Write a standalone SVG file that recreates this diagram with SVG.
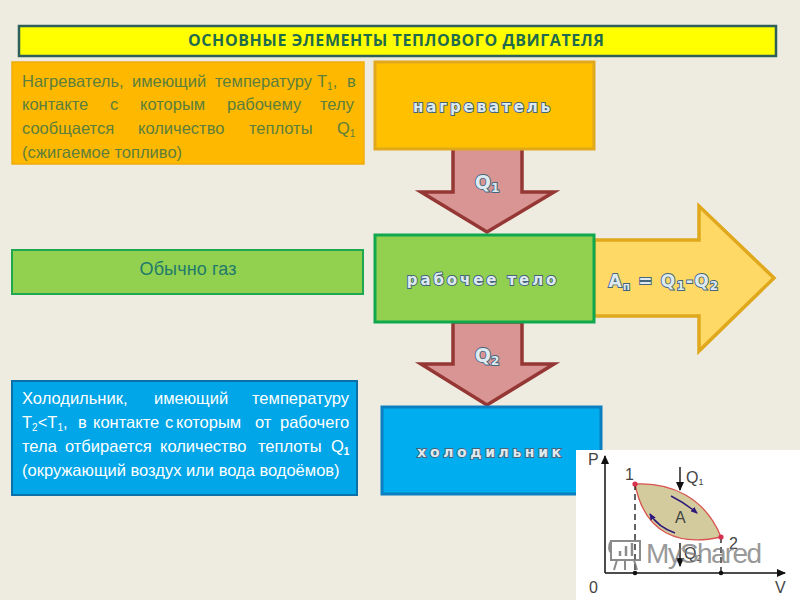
<svg xmlns="http://www.w3.org/2000/svg" width="800" height="600" viewBox="0 0 800 600">
<style>
text{font-family:"Liberation Sans",Arial,sans-serif}
.b{font-size:16.5px}
.o{fill:#5b7f3c}
.w{fill:#fff}
.s{font-size:10px}
.fx{font-family:"DejaVu Sans",sans-serif;font-weight:bold;fill:#dfeaf0;stroke:#44657c;stroke-width:1.8px;paint-order:stroke;text-anchor:middle}
.ar{fill:#d99594;stroke:#953735;stroke-width:3.5}
.g{font-size:16px;fill:#444}
</style>
<defs>
<marker id="ah" markerUnits="userSpaceOnUse" markerWidth="9" markerHeight="8" refX="8" refY="4" orient="auto"><path d="M0 0L9 4L0 8z" fill="#111"/></marker>
<marker id="ab" markerUnits="userSpaceOnUse" markerWidth="7" markerHeight="6" refX="6" refY="3" orient="auto"><path d="M0 0L7 3L0 6z" fill="#2e1a7a"/></marker>
</defs>
<rect width="800" height="600" fill="#eeece1"/>
<g id="title"><rect x="19" y="26" width="757" height="30" fill="#ffff00" stroke="#2f5f5a" stroke-width="2.5"/>
<text x="396" y="46" font-size="16" font-weight="bold" fill="#1f6b4e" text-anchor="middle" style="font-family:'Open Sans',sans-serif" textLength="416">ОСНОВНЫЕ ЭЛЕМЕНТЫ ТЕПЛОВОГО ДВИГАТЕЛЯ</text></g>

<g id="connectors">
<path class="ar" d="M453 148V192H421L487 232L554 192H522V148z"/>
<path class="ar" d="M453 322V364H421L487 405L554 364H522V322z"/>
<path d="M594 240H699V206L774 278L699 351V316H594z" fill="#ffd966" stroke="#e0a81c" stroke-width="3.5"/>
</g>

<g id="heater-note"><rect x="12" y="62" width="352" height="102" fill="#ffb800" stroke="#f0ac0c" stroke-width="1.5"/>
<g class="b o">
<text x="22" y="87">Нагреватель,</text><text x="132" y="87">имеющий</text><text x="215" y="87">температуру</text><text x="317" y="87">Т<tspan class="s" dy="3">1</tspan><tspan dy="-3">,</tspan></text><text x="347" y="87">в</text>
<text x="22" y="110">контакте</text><text x="110" y="110">с</text><text x="140" y="110">которым</text><text x="227" y="110">рабочему</text><text x="320" y="110">телу</text>
<text x="22" y="134">сообщается</text><text x="138" y="134">количество</text><text x="249" y="134">теплоты</text><text x="337" y="134">Q<tspan class="s" dy="3">1</tspan></text>
<text x="22" y="158">(сжигаемое топливо)</text>
</g></g>

<g id="heater"><rect x="375" y="62" width="219" height="87" fill="#ffc000" stroke="#e0a81c" stroke-width="3"/>
<text class="fx" x="483" y="112" font-size="15" letter-spacing="2.9">нагреватель</text></g>

<g id="gas-note"><rect x="12" y="250" width="351" height="44" fill="#92d050" stroke="#1fa84f" stroke-width="2"/>
<text x="188" y="275" font-size="18" fill="#1f7a6a" text-anchor="middle" textLength="97">Обычно газ</text></g>

<g id="working-body"><rect x="375" y="235" width="219" height="87" fill="#92d050" stroke="#0fa84f" stroke-width="3"/>
<text class="fx" x="483" y="285" font-size="15" letter-spacing="2.9">рабочее тело</text></g>

<g id="cooler-note"><rect x="12" y="381" width="345" height="114" fill="#00a6e8" stroke="#0b6fa8" stroke-width="2"/>
<g class="b w">
<text x="22" y="404">Холодильник,</text><text x="154" y="404">имеющий</text><text x="252" y="404">температуру</text>
<text x="22" y="428">Т<tspan class="s" dy="3">2</tspan><tspan dy="-3">&lt;Т</tspan><tspan class="s" dy="3">1</tspan><tspan dy="-3">,</tspan></text><text x="78" y="428">в</text><text x="93" y="428">контакте</text><text x="165" y="428">с</text><text x="176" y="428">которым</text><text x="255" y="428">от</text><text x="280" y="428">рабочего</text>
<text x="22" y="452">тела</text><text x="65" y="452">отбирается</text><text x="160" y="452">количество</text><text x="258" y="452">теплоты</text><text x="331" y="452">Q<tspan class="s" font-weight="bold" dy="3">1</tspan></text>
<text x="22" y="476">(окружающий воздух или вода водоёмов)</text>
</g></g>

<g id="cooler"><rect x="382" y="407" width="219" height="87" fill="#00aeef" stroke="#0b7fc0" stroke-width="3"/>
<text class="fx" x="491" y="457" font-size="14" letter-spacing="3.6">холодильник</text></g>

<g id="q1-label"><text class="fx" x="487" y="189" font-size="19">Q<tspan font-size="12" dy="3">1</tspan></text></g>
<g id="q2-label"><text class="fx" x="487" y="362" font-size="19">Q<tspan font-size="12" dy="3">2</tspan></text></g>
<g id="work-label"><text class="fx" x="664" y="287" font-size="17" letter-spacing="1.2">А<tspan font-size="10" dy="3">п</tspan><tspan dy="-3"> = Q</tspan><tspan font-size="12" dy="3">1</tspan><tspan dy="-3">-Q</tspan><tspan font-size="12" dy="3">2</tspan></text></g>

<g id="pv-chart">
<rect x="576" y="450" width="224" height="150" fill="#fff"/>
<path d="M635 484C670 482 705 497 721 537C680 546 645 535 635 484z" fill="#d3cb9e" stroke="#d9534f" stroke-width="1.3"/>
<path d="M605 573V456" stroke="#111" stroke-width="1.5" marker-end="url(#ah)" fill="none"/>
<path d="M605 573H785" stroke="#111" stroke-width="1.5" marker-end="url(#ah)" fill="none"/>
<path d="M635 484V573M721 537V573" stroke="#111" stroke-width="1.3" stroke-dasharray="6 4" fill="none"/>
<path d="M680 467V490" stroke="#111" stroke-width="1.4" marker-end="url(#ah)" fill="none"/>
<path d="M680 543V566" stroke="#111" stroke-width="1.4" marker-end="url(#ah)" fill="none"/>
<path d="M671 496Q685 503 697 513" stroke="#2e1a7a" stroke-width="1.5" marker-end="url(#ab)" fill="none"/>
<path d="M675 533Q658 527 650 514" stroke="#2e1a7a" stroke-width="1.5" marker-end="url(#ab)" fill="none"/>
<circle cx="635" cy="484" r="2.6" fill="#d9304f"/><circle cx="721" cy="537" r="2.6" fill="#d9304f"/>
<circle cx="635" cy="573" r="2.3" fill="#111"/><circle cx="721" cy="573" r="2.3" fill="#111"/>
<text class="g" x="588" y="465">P</text><text class="g" x="625" y="480">1</text><text class="g" x="686" y="483">Q<tspan font-size="9" dy="2">1</tspan></text>
<text class="g" x="675" y="523" fill="#555">A</text><text class="g" x="729" y="549">2</text><text class="g" x="684" y="559">Q<tspan font-size="9" dy="2">2</tspan></text>
<text class="g" x="589" y="593">0</text><text class="g" x="775" y="593">V</text>
<g fill="none" stroke="#777" stroke-width="2" opacity=".85">
<path d="M611 541H640V560H611zM611 541C608 545 609 552 611 552M617 560L614 570M634 560L637 570M625 560V570"/>
<path d="M620 556V551M626 556V546M632 556V543" stroke-width="2.5"/>
</g>
<text x="646" y="563" font-size="28" fill="#777" opacity=".75" textLength="116">MyShared</text>
</g>
</svg>
